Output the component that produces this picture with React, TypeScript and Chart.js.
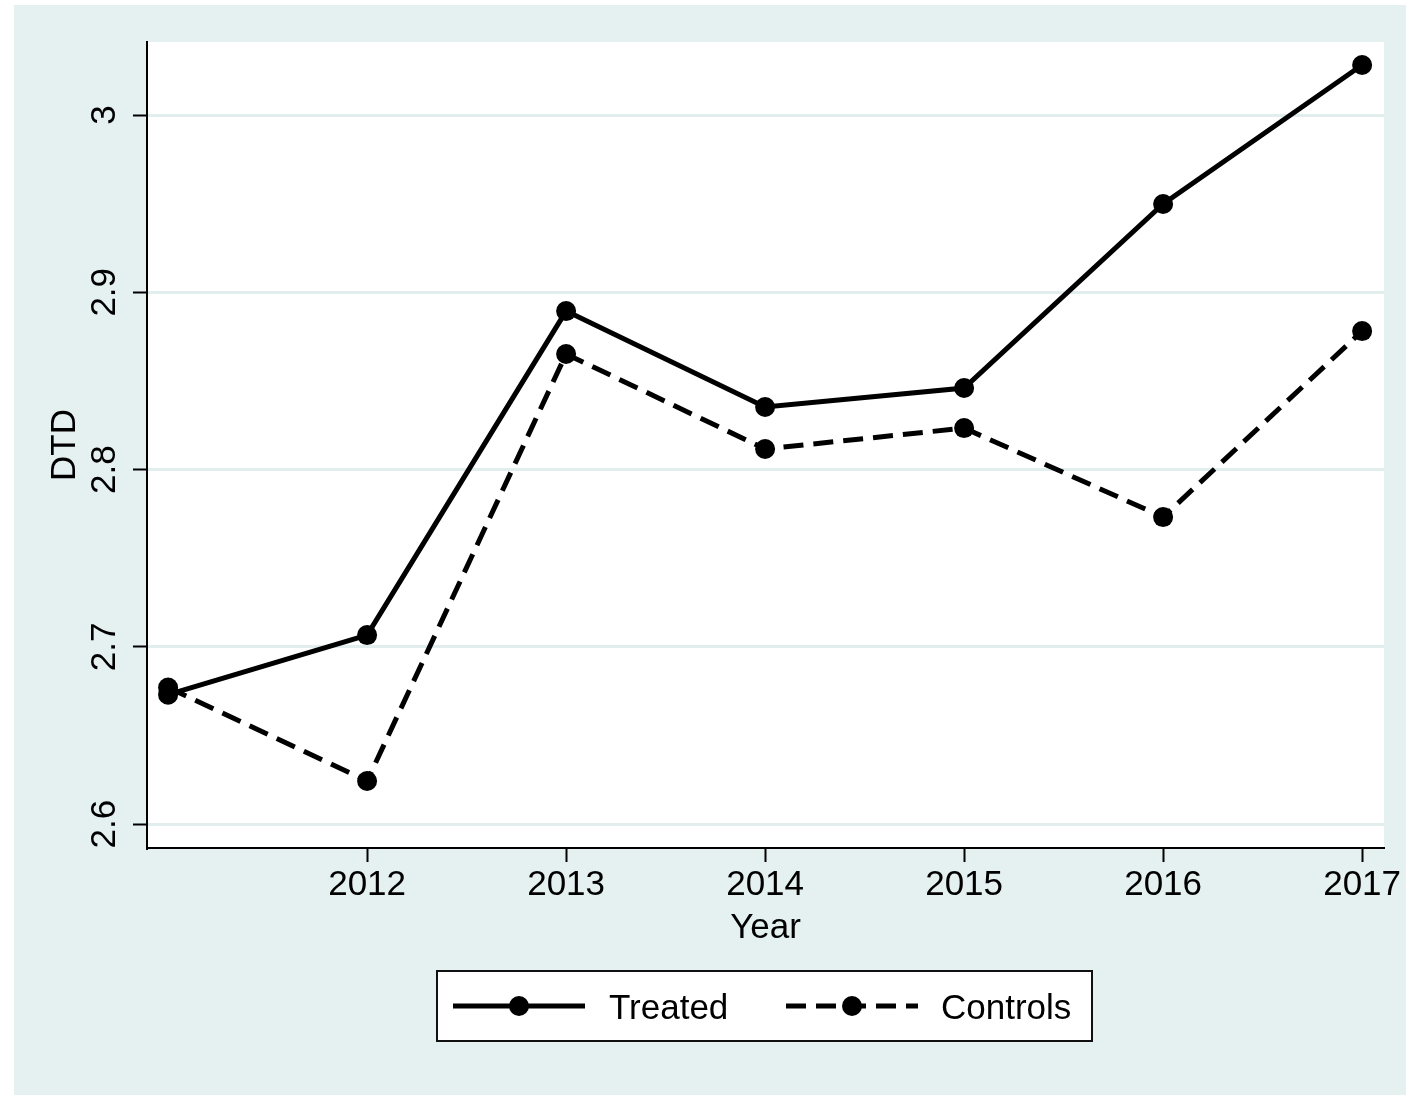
import React, { useEffect, useRef } from "react";
import { Chart, registerables } from "chart.js";

Chart.register(...registerables);

const years = [2011, 2012, 2013, 2014, 2015, 2016, 2017];
const treated = [2.673, 2.7066, 2.8894, 2.8353, 2.846, 2.9498, 3.0282];
const controls = [2.677, 2.6243, 2.8652, 2.8116, 2.8234, 2.7732, 2.8781];
const xTickValues = [2012, 2013, 2014, 2015, 2016, 2017];
const yTickValues = [2.6, 2.7, 2.8, 2.9, 3.0];
const yTickLabels = ["2.6", "2.7", "2.8", "2.9", "3"];
const seriesNames = ["Treated", "Controls"];
const xTitle = "Year";
const yTitle = "DTD";

const FONT = "'Liberation Sans', Arial, Helvetica, sans-serif";
const BG = "#e5f0f0";
const GRID = "#e2eeee";

const decorPlugin = {
  id: "decor",
  beforeDraw(chart: any) {
    const { ctx, chartArea } = chart;
    ctx.save();
    ctx.fillStyle = "#ffffff";
    ctx.fillRect(0, 0, chart.width, chart.height);
    ctx.fillStyle = BG;
    ctx.fillRect(14, 5, 1392, 1090);
    ctx.fillStyle = "#ffffff";
    ctx.fillRect(chartArea.left, chartArea.top, chartArea.right - chartArea.left, chartArea.bottom - chartArea.top);
    ctx.restore();
  },
  afterDraw(chart: any) {
    const { ctx, chartArea } = chart;
    const yScale = chart.scales.y;
    ctx.save();
    ctx.fillStyle = "#000000";
    ctx.font = `35px ${FONT}`;
    // y tick labels, rotated
    yTickValues.forEach((v, i) => {
      const py = yScale.getPixelForValue(v);
      ctx.save();
      ctx.translate(115, py);
      ctx.rotate(-Math.PI / 2);
      ctx.textAlign = "center";
      ctx.textBaseline = "alphabetic";
      ctx.fillText(yTickLabels[i], 0, 0);
      ctx.restore();
    });
    // y title
    ctx.save();
    ctx.translate(75, (chartArea.top + chartArea.bottom) / 2);
    ctx.rotate(-Math.PI / 2);
    ctx.textAlign = "center";
    ctx.textBaseline = "alphabetic";
    ctx.fillText(yTitle, 0, 0);
    ctx.restore();
    // x title
    ctx.textAlign = "center";
    ctx.textBaseline = "alphabetic";
    ctx.fillText(xTitle, (chartArea.left + chartArea.right) / 2, 938);

    // legend
    ctx.lineWidth = 2;
    ctx.strokeStyle = "#111111";
    ctx.fillStyle = "#ffffff";
    ctx.fillRect(437, 971, 655, 70);
    ctx.strokeRect(437, 971, 655, 70);
    const items = [
      { x0: 453, x1: 585, tx: 609, dash: [] as number[] },
      { x0: 786, x1: 918, tx: 941, dash: [20, 10] },
    ];
    const ly = 1006;
    items.forEach((it, i) => {
      ctx.strokeStyle = "#000000";
      ctx.lineWidth = 5;
      ctx.setLineDash(it.dash);
      ctx.beginPath();
      ctx.moveTo(it.x0, ly);
      ctx.lineTo(it.x1, ly);
      ctx.stroke();
      ctx.setLineDash([]);
      ctx.fillStyle = "#000000";
      ctx.beginPath();
      ctx.arc((it.x0 + it.x1) / 2, ly, 10, 0, Math.PI * 2);
      ctx.fill();
      ctx.textAlign = "left";
      ctx.textBaseline = "alphabetic";
      ctx.fillText(seriesNames[i], it.tx, ly + 13);
    });
    ctx.restore();
  },
};

export default function App() {
  const ref = useRef<HTMLCanvasElement>(null);
  useEffect(() => {
    if (!ref.current) return;
    const chart = new Chart(ref.current, {
      type: "line",
      data: {
        datasets: [
          {
            label: seriesNames[0],
            data: years.map((x, i) => ({ x, y: treated[i] })),
            borderColor: "#000000",
            backgroundColor: "#000000",
            borderWidth: 5,
            pointRadius: 10,
            pointBorderWidth: 0,
            pointBackgroundColor: "#000000",
            tension: 0,
            clip: false as any,
          },
          {
            label: seriesNames[1],
            data: years.map((x, i) => ({ x, y: controls[i] })),
            borderColor: "#000000",
            backgroundColor: "#000000",
            borderWidth: 5,
            borderDash: [20, 10],
            pointRadius: 10,
            pointBorderWidth: 0,
            pointBackgroundColor: "#000000",
            tension: 0,
            clip: false as any,
          },
        ],
      },
      options: {
        animation: false,
        responsive: false,
        devicePixelRatio: 1,
        layout: { padding: { left: 0, top: 42, right: 35, bottom: 0 } },
        plugins: { legend: { display: false }, tooltip: { enabled: false } },
        scales: {
          x: {
            type: "linear",
            min: 2010.894,
            max: 2017.11,
            afterBuildTicks: (s: any) => {
              s.ticks = xTickValues.map((v) => ({ value: v }));
            },
            afterFit: (s: any) => {
              s.height = 247;
            },
            grid: {
              drawOnChartArea: false,
              drawTicks: true,
              tickLength: 14,
              tickColor: "#000000",
              tickWidth: 2,
            },
            border: { color: "#000000", width: 2 },
            ticks: {
              color: "#000000",
              font: { family: FONT, size: 35 },
              padding: 2,
              maxRotation: 0,
              autoSkip: false,
              callback: (v: any) => String(v),
            },
          },
          y: {
            type: "linear",
            min: 2.5865,
            max: 3.0412,
            afterBuildTicks: (s: any) => {
              s.ticks = yTickValues.map((v) => ({ value: v }));
            },
            afterFit: (s: any) => {
              s.width = 147;
            },
            grid: {
              color: GRID,
              lineWidth: 3,
              drawTicks: true,
              tickLength: 14,
              tickColor: "#000000",
              tickWidth: 2,
            },
            border: { color: "#000000", width: 2 },
            ticks: { display: false },
          },
        },
      },
      plugins: [decorPlugin],
    });
    return () => chart.destroy();
  }, []);
  return (
    <canvas
      ref={ref}
      width={1419}
      height={1095}
      style={{ position: "absolute", left: 0, top: 0, width: 1419, height: 1095 }}
    />
  );
}
